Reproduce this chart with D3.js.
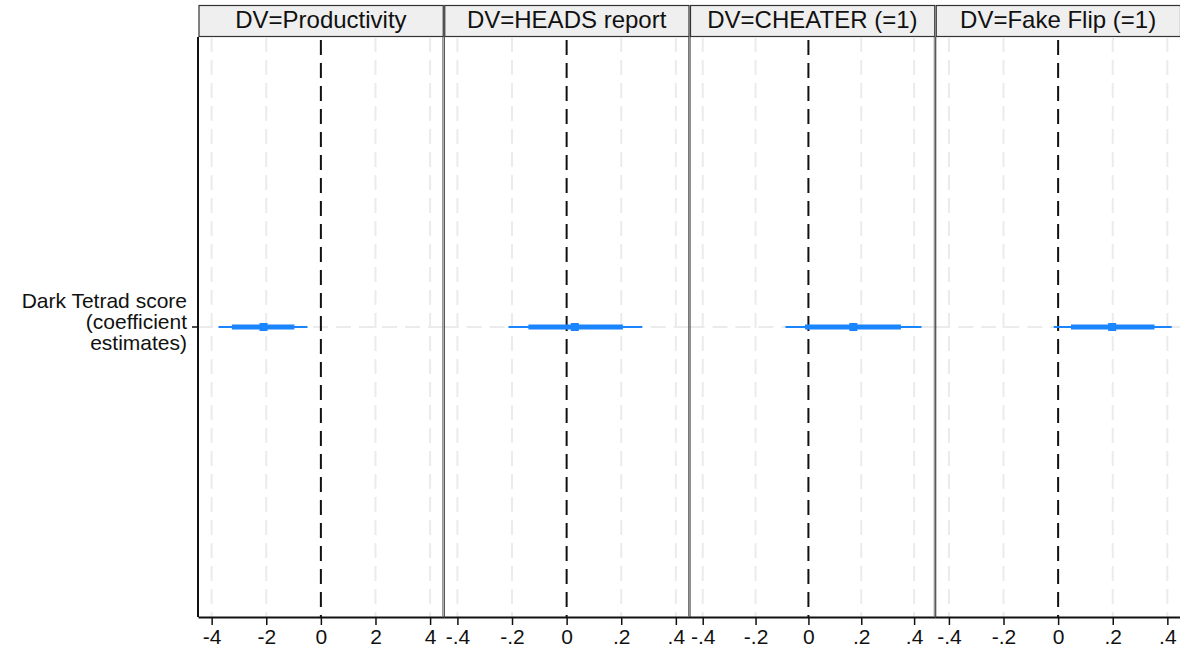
<!DOCTYPE html>
<html>
<head>
  <meta charset="utf-8">
  <title>Dark Tetrad coefficient plot</title>
  <script src="https://d3js.org/d3.v7.min.js"></script>
  <style>
    body { margin: 0; background: #fff; }
    svg { display: block; font-family: "Liberation Sans", Arial, sans-serif; }
  </style>
</head>
<body>
  <div id="chart"></div>

  <script>
    // data
    var panels = ['DV=Productivity', 'DV=HEADS report', 'DV=CHEATER (=1)', 'DV=Fake Flip (=1)'];
    var domains = [[-4.5, 4.5], [-0.45, 0.45], [-0.45, 0.48], [-0.45, 0.45]];
    var tickValues = [[-4, -2, 0, 2, 4], [-0.4, -0.2, 0, 0.2, 0.4], [-0.4, -0.2, 0, 0.2, 0.4], [-0.4, -0.2, 0, 0.2, 0.4]];
    var tickLabels = [['-4', '-2', '0', '2', '4'], ['-.4', '-.2', '0', '.2', '.4'], ['-.4', '-.2', '0', '.2', '.4'], ['-.4', '-.2', '0', '.2', '.4']];
    var estimates = [-2.1, 0.03, 0.17, 0.198];
    var ci90Lo = [-3.26, -0.14, -0.013, 0.047];
    var ci90Hi = [-0.97, 0.206, 0.35, 0.353];
    var ci95Lo = [-3.75, -0.213, -0.087, -0.016];
    var ci95Hi = [-0.49, 0.277, 0.428, 0.416];
    var rowLabel = ['Dark Tetrad score', '(coefficient', 'estimates)'];

    var W = 1180, H = 652;
    var plotLeft = 198, plotRight = 1181, plotTop = 37, plotBottom = 617, headTop = 5;
    var blue = '#1a85ff';

    var svg = d3.select('#chart').append('svg')
      .attr('width', W)
      .attr('height', H);

    var panelX = d3.scaleBand()
      .domain(d3.range(panels.length))
      .range([plotLeft, plotRight])
      .paddingInner(0);

    var y = d3.scaleBand()
      .domain(['Dark Tetrad score'])
      .range([plotTop, plotBottom]);

    var yRow = y('Dark Tetrad score') + y.bandwidth() / 2;

    panels.forEach(function(name, i) {
      var x0 = panelX(i), pw = panelX.bandwidth();
      var x = d3.scaleLinear().domain(domains[i]).range([x0, x0 + pw]);
      var g = svg.append('g');

      // header strip
      g.append('rect')
        .attr('x', x0 + 1).attr('y', headTop + 0.5)
        .attr('width', pw - 1.5).attr('height', plotTop - headTop - 1)
        .attr('fill', '#efefef')
        .attr('stroke', '#333')
        .attr('stroke-width', 1.2);
      g.append('text')
        .attr('x', x0 + pw / 2).attr('y', 28)
        .attr('text-anchor', 'middle')
        .attr('font-size', 24)
        .attr('fill', '#111')
        .text(name);

      // vertical grid
      g.selectAll('.grid')
        .data(tickValues[i].filter(function(d) { return d !== 0; }))
        .enter().append('line')
        .attr('x1', function(d) { return x(d); })
        .attr('x2', function(d) { return x(d); })
        .attr('y1', plotTop).attr('y2', plotBottom)
        .attr('stroke', '#ebebeb')
        .attr('stroke-width', 2)
        .attr('stroke-dasharray', '15,8');

      // horizontal grid at the row
      g.append('line')
        .attr('x1', x0).attr('x2', x0 + pw)
        .attr('y1', yRow).attr('y2', yRow)
        .attr('stroke', '#ebebeb')
        .attr('stroke-width', 2)
        .attr('stroke-dasharray', '15,8');

      // zero line
      g.append('line')
        .attr('x1', x(0)).attr('x2', x(0))
        .attr('y1', plotTop + 3).attr('y2', plotBottom)
        .attr('stroke', '#111')
        .attr('stroke-width', 2)
        .attr('stroke-dasharray', '15,8');

      // confidence intervals and estimate
      g.append('line')
        .attr('x1', x(ci95Lo[i])).attr('x2', x(ci95Hi[i]))
        .attr('y1', yRow).attr('y2', yRow)
        .attr('stroke', blue).attr('stroke-width', 2);
      g.append('line')
        .attr('x1', x(ci90Lo[i])).attr('x2', x(ci90Hi[i]))
        .attr('y1', yRow).attr('y2', yRow)
        .attr('stroke', blue).attr('stroke-width', 5);
      g.append('rect')
        .attr('x', x(estimates[i]) - 4).attr('y', yRow - 4)
        .attr('width', 8).attr('height', 8)
        .attr('fill', blue);

      // bottom axis
      var axis = d3.axisBottom(x)
        .tickValues(tickValues[i])
        .tickFormat(function(d, k) { return tickLabels[i][k]; })
        .tickSizeInner(8)
        .tickSizeOuter(0)
        .tickPadding(4);
      var ax = g.append('g')
        .attr('transform', 'translate(0,' + plotBottom + ')')
        .call(axis);
      ax.select('.domain').attr('stroke', '#111').attr('stroke-width', 2);
      ax.selectAll('.tick line').attr('stroke', '#111').attr('stroke-width', 1.5);
      ax.selectAll('.tick text')
        .attr('font-size', 21)
        .attr('font-family', '"Liberation Sans", Arial, sans-serif')
        .attr('fill', '#111');

      // panel left border (double line between panels)
      if (i === 0) {
        g.append('line')
          .attr('x1', x0).attr('x2', x0)
          .attr('y1', plotTop).attr('y2', plotBottom)
          .attr('stroke', '#111').attr('stroke-width', 2);
      } else {
        g.append('line')
          .attr('x1', x0 - 1).attr('x2', x0 - 1)
          .attr('y1', plotTop).attr('y2', plotBottom)
          .attr('stroke', '#777').attr('stroke-width', 1);
        g.append('line')
          .attr('x1', x0 + 0.5).attr('x2', x0 + 0.5)
          .attr('y1', plotTop).attr('y2', plotBottom)
          .attr('stroke', '#222').attr('stroke-width', 1);
      }
    });

    // left axis tick + label
    svg.append('line')
      .attr('x1', plotLeft - 6).attr('x2', plotLeft)
      .attr('y1', yRow).attr('y2', yRow)
      .attr('stroke', '#111').attr('stroke-width', 1.5);

    svg.append('text')
      .attr('text-anchor', 'end')
      .attr('font-size', 21)
      .attr('fill', '#111')
      .selectAll('tspan')
      .data(rowLabel)
      .enter().append('tspan')
      .attr('x', 187)
      .attr('y', function(d, k) { return 308 + k * 21; })
      .text(function(d) { return d; });
  </script>
</body>
</html>
